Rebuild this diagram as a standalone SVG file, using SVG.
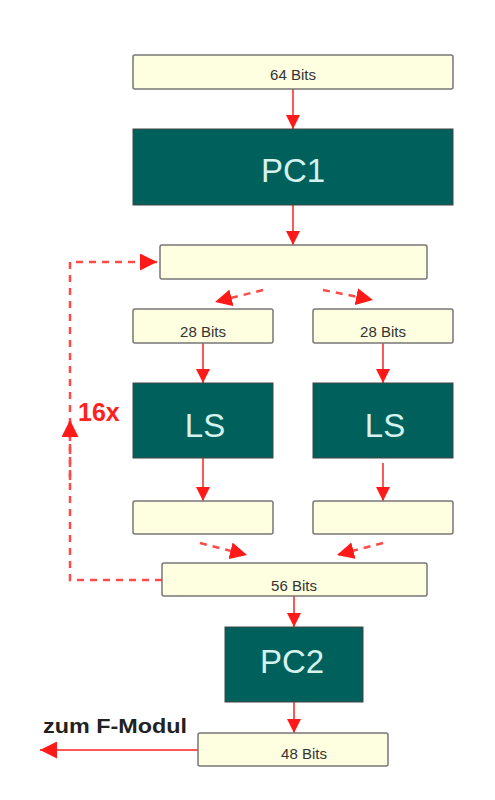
<svg xmlns="http://www.w3.org/2000/svg" width="495" height="800" viewBox="0 0 495 800">
<style>
.y{fill:#fefee0;stroke:#777;stroke-width:1.5}
.t{fill:#00615c;stroke:#444;stroke-width:1}
.s{font-family:"Liberation Sans",Arial,sans-serif;font-size:15px;fill:#333;text-anchor:middle}
.b{font-family:"Liberation Sans",Arial,sans-serif;font-size:33px;fill:#d6f2ee;text-anchor:middle}
.c{stroke:#ff2020;stroke-width:1.5;fill:none}
.d{stroke:#ff4a4a;stroke-width:2.5;fill:none;stroke-dasharray:7,6}
</style>
<defs>
<marker id="a2" viewBox="0 0 10 10" refX="10" refY="5" markerWidth="14" markerHeight="14" orient="auto" markerUnits="userSpaceOnUse">
<path d="M0,0 L10,5 L0,10 z" fill="#ff1a1a"/>
</marker>
<marker id="a3" viewBox="0 0 10 10" refX="10" refY="5" markerWidth="17" markerHeight="17" orient="auto" markerUnits="userSpaceOnUse">
<path d="M0,0 L10,5 L0,10 z" fill="#ff1a1a"/>
</marker>
</defs>
<g id="connectors">
<line class="c" x1="293" y1="89" x2="293" y2="129" marker-end="url(#a2)"/>
<line class="c" x1="293" y1="205" x2="293" y2="245" marker-end="url(#a2)"/>
<line class="d" x1="263" y1="290" x2="215" y2="302" marker-end="url(#a3)" stroke-dasharray="12,4"/>
<line class="d" x1="323" y1="290" x2="373" y2="300" marker-end="url(#a3)" stroke-dasharray="12,4"/>
<line class="c" x1="203" y1="343" x2="203" y2="383" marker-end="url(#a2)"/>
<line class="c" x1="383" y1="343" x2="383" y2="383" marker-end="url(#a2)"/>
<line class="c" x1="203" y1="458" x2="203" y2="501" marker-end="url(#a2)"/>
<line class="c" x1="383" y1="463" x2="383" y2="501" marker-end="url(#a2)"/>
<line class="d" x1="200" y1="543" x2="247" y2="555" marker-end="url(#a3)" stroke-dasharray="12,4"/>
<line class="d" x1="383" y1="543" x2="337" y2="555" marker-end="url(#a3)" stroke-dasharray="12,4"/>
<polyline class="d" points="162,580 70,580 70,262 157,262" marker-end="url(#a3)"/>
<line class="d" x1="70" y1="480" x2="70" y2="420" marker-end="url(#a3)"/>
<line class="c" x1="294" y1="596" x2="294" y2="627" marker-end="url(#a2)"/>
<line class="c" x1="294" y1="702" x2="294" y2="733" marker-end="url(#a2)"/>
<line class="c" x1="198" y1="750" x2="40" y2="750" marker-end="url(#a3)"/>
</g>
<g id="in64"><rect class="y" x="133" y="55" width="320" height="34" rx="2"/><text class="s" x="293" y="80">64 Bits</text></g>
<g id="pc1"><rect class="t" x="133" y="129" width="320" height="76"/><text class="b" x="293" y="182">PC1</text></g>
<g id="reg"><rect class="y" x="160" y="245" width="267" height="34" rx="2"/></g>
<g id="c28"><rect class="y" x="133" y="309" width="140" height="34" rx="2"/><text class="s" x="203" y="337">28 Bits</text></g>
<g id="d28"><rect class="y" x="313" y="309" width="140" height="34" rx="2"/><text class="s" x="383" y="337">28 Bits</text></g>
<g id="ls1"><rect class="t" x="133" y="383" width="140" height="75"/><text class="b" x="205" y="437">LS</text></g>
<g id="ls2"><rect class="t" x="313" y="383" width="140" height="75"/><text class="b" x="385" y="437">LS</text></g>
<g id="c28o"><rect class="y" x="133" y="501" width="140" height="33" rx="2"/></g>
<g id="d28o"><rect class="y" x="313" y="501" width="140" height="33" rx="2"/></g>
<g id="b56"><rect class="y" x="162" y="563" width="265" height="33" rx="2"/><text class="s" x="294" y="591">56 Bits</text></g>
<g id="pc2"><rect class="t" x="225" y="627" width="138" height="75"/><text class="b" x="292" y="673">PC2</text></g>
<g id="b48"><rect class="y" x="198" y="733" width="190" height="33" rx="2"/><text class="s" x="304" y="759">48 Bits</text></g>
<text x="78" y="421" font-family="Liberation Sans,Arial,sans-serif" font-weight="bold" font-size="25" fill="#ff2020">16x</text>
<text x="43" y="733" font-family="Liberation Sans,Arial,sans-serif" font-weight="bold" font-size="21" fill="#222" textLength="144" lengthAdjust="spacingAndGlyphs">zum F-Modul</text>
</svg>
